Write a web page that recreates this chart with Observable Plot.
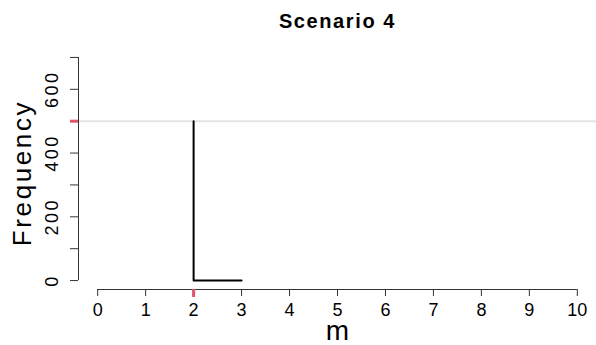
<!DOCTYPE html>
<html>
<head>
<meta charset="utf-8">
<script src="https://cdn.jsdelivr.net/npm/d3@7"></script>
<script src="https://cdn.jsdelivr.net/npm/@observablehq/plot@0.6"></script>
<style>
  body { margin: 0; background: #fff; }
  svg { display: block; }
</style>
</head>
<body>
<div id="chart"></div>
<script>
// Frequency of the selected m across simulation runs
const mValues = [2, 3];
const frequencies = [500, 0];

// True m and total number of runs
const trueM = [2];
const totalRuns = [500];

// Axis ticks and the labels shown
const xTicks = [0, 1, 2, 3, 4, 5, 6, 7, 8, 9, 10];
const yTicks = [0, 100, 200, 300, 400, 500, 600, 700];
const yLabels = [0, 200, 400, 600];

const title = "Scenario 4";
const xLabel = "m";
const yLabel = "Frequency";

const data = mValues.map((m, i) => ({m, freq: frequencies[i]}));

// Plot region padded 4% beyond the data range on each side
const pad = (lo, hi) => [lo - 0.04 * (hi - lo), hi + 0.04 * (hi - lo)];
const xDomain = pad(xTicks[0], xTicks[xTicks.length - 1]);
const yDomain = pad(yTicks[0], yTicks[yTicks.length - 1]);

const red = "#DF536B";
const axisColor = "#333";

const chart = Plot.plot({
  width: 596,
  height: 345,
  marginLeft: 78,
  marginRight: 0,
  marginTop: 48,
  marginBottom: 56,
  style: {fontFamily: "'Liberation Sans', Arial, Helvetica, sans-serif", background: "white"},
  x: {domain: xDomain},
  y: {domain: yDomain},
  marks: [
    // horizontal reference at the total run count
    Plot.ruleY(totalRuns, {stroke: "#e3e3e3", strokeWidth: 2}),
    // step line of the frequencies
    Plot.line(data, {x: "m", y: "freq", curve: "step-before", stroke: "black", strokeWidth: 2}),
    // axis lines spanning the tick range
    Plot.ruleY([yDomain[0]], {x1: xTicks[0], x2: xTicks[xTicks.length - 1], stroke: axisColor}),
    Plot.ruleX([xDomain[0]], {y1: yTicks[0], y2: yTicks[yTicks.length - 1], stroke: axisColor}),
    Plot.axisX(xTicks, {tickSize: 7, tickPadding: 7, fontSize: 18, stroke: axisColor, fill: "black", label: null}),
    Plot.axisY(yTicks, {tickSize: 8, tickFormat: () => "", stroke: axisColor, label: null}),
    Plot.text(yLabels, {
      y: d => d, text: d => String(d), frameAnchor: "left", textAnchor: "middle",
      rotate: -90, dx: -26, lineAnchor: "middle", fontSize: 18
    }),
    // red markers at the true m and run count
    Plot.axisX(trueM, {tickSize: 8, tickFormat: () => "", stroke: red, strokeWidth: 3, label: null}),
    Plot.axisY(totalRuns, {tickSize: 8, tickFormat: () => "", stroke: red, strokeWidth: 3, label: null}),
    // titles
    Plot.text([title], {frameAnchor: "top", dy: -27, fontWeight: "bold", fontSize: 20, lineAnchor: "middle"}),
    Plot.text([yLabel], {
      frameAnchor: "left", textAnchor: "middle", rotate: -90, dx: -56, dy: 4,
      fontSize: 26, lineAnchor: "middle"
    }),
    Plot.text([xLabel], {frameAnchor: "bottom", dy: 42, fontSize: 28, lineAnchor: "middle"})
  ]
});

// wider letter spacing for the title and the rotated y texts
const spacing = new Map([[title, "1.6px"], [yLabel, "2.6px"]]);
yLabels.forEach(v => spacing.set(String(v), "2.4px"));
d3.select(chart).selectAll("text")
  .filter(function () { return spacing.has(this.textContent) && this.getAttribute("transform")?.includes("rotate") || this.textContent === title; })
  .style("letter-spacing", function () { return spacing.get(this.textContent); });

document.getElementById("chart").appendChild(chart);
</script>
</body>
</html>
